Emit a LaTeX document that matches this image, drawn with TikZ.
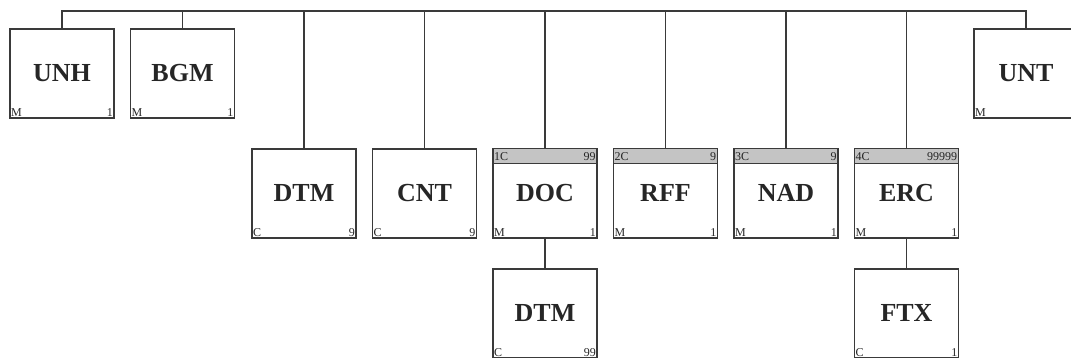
\documentclass[tikz,border=0pt]{standalone}
\usepackage{fontspec}
\setmainfont{Liberation Serif}
\definecolor{linec}{HTML}{3A3A3A}
\definecolor{hdrfill}{HTML}{C4C4C4}
\tikzset{
  ent/.style={draw=linec, line width=1.6pt, minimum width=104pt, minimum height=89pt,
    inner sep=0pt, anchor=north, font=\fontsize{26}{26}\selectfont\bfseries, text=black!85},
  lab/.style={inner sep=1.8pt, font=\fontsize{12}{12}\selectfont, text=black!85},
  hdr/.style={draw=linec, line width=1.4pt, fill=hdrfill, minimum width=104pt,
    minimum height=15pt, inner sep=0pt, anchor=north west},
  conn/.style={draw=linec, line width=1.6pt}
}
\newcommand\mkent[6]{%
  \node[ent] (#1) at (#2,#3) {\raisebox{-5pt}{#4}};
  \node[lab, anchor=south west] (#1-bl) at (#1.south west) {#5};
  \node[lab, anchor=south east] (#1-br) at (#1.south east) {#6};}
\newcommand\mkhdr[3]{%
  \node[hdr] (#1-h) at (#1.north west) {};
  \node[lab, anchor=west] (#1-hl) at (#1-h.west) {#2};
  \node[lab, anchor=east] (#1-hr) at (#1-h.east) {#3};}
\begin{document}
\begin{tikzpicture}[x=1pt,y=-1pt]
\useasboundingbox (0,0) rectangle (1071,358);
\clip (0,0) rectangle (1071,358);
\coordinate (bus) at (0,11);
% row 1
\mkent{unh}{62}{28}{UNH}{M}{1}
\mkent{bgm}{182.5}{28}{BGM}{M}{1}
\mkent{unt}{1026}{28}{UNT}{M}{1}
% row 2
\mkent{dtm}{304}{148}{DTM}{C}{9}
\mkent{cnt}{424.5}{148}{CNT}{C}{9}
\mkent{doc}{545}{148}{DOC}{M}{1}
\mkent{rff}{665.5}{148}{RFF}{M}{1}
\mkent{nad}{786}{148}{NAD}{M}{1}
\mkent{erc}{906.5}{148}{ERC}{M}{1}
\mkhdr{doc}{1C}{99}
\mkhdr{rff}{2C}{9}
\mkhdr{nad}{3C}{9}
\mkhdr{erc}{4C}{99999}
% row 3
\mkent{dtmb}{545}{268}{DTM}{C}{99}
\mkent{ftx}{906.5}{268}{FTX}{C}{1}
% connectors
\draw[conn] (unh.north) -- (unh.north |- bus) -| (unt.north);
\foreach \b in {bgm,dtm,cnt,doc,rff,nad,erc}
  \draw[conn] (\b.north) -- (\b.north |- bus);
\draw[conn] (doc.south) -- (dtmb.north);
\draw[conn] (erc.south) -- (ftx.north);
\end{tikzpicture}
\end{document}
